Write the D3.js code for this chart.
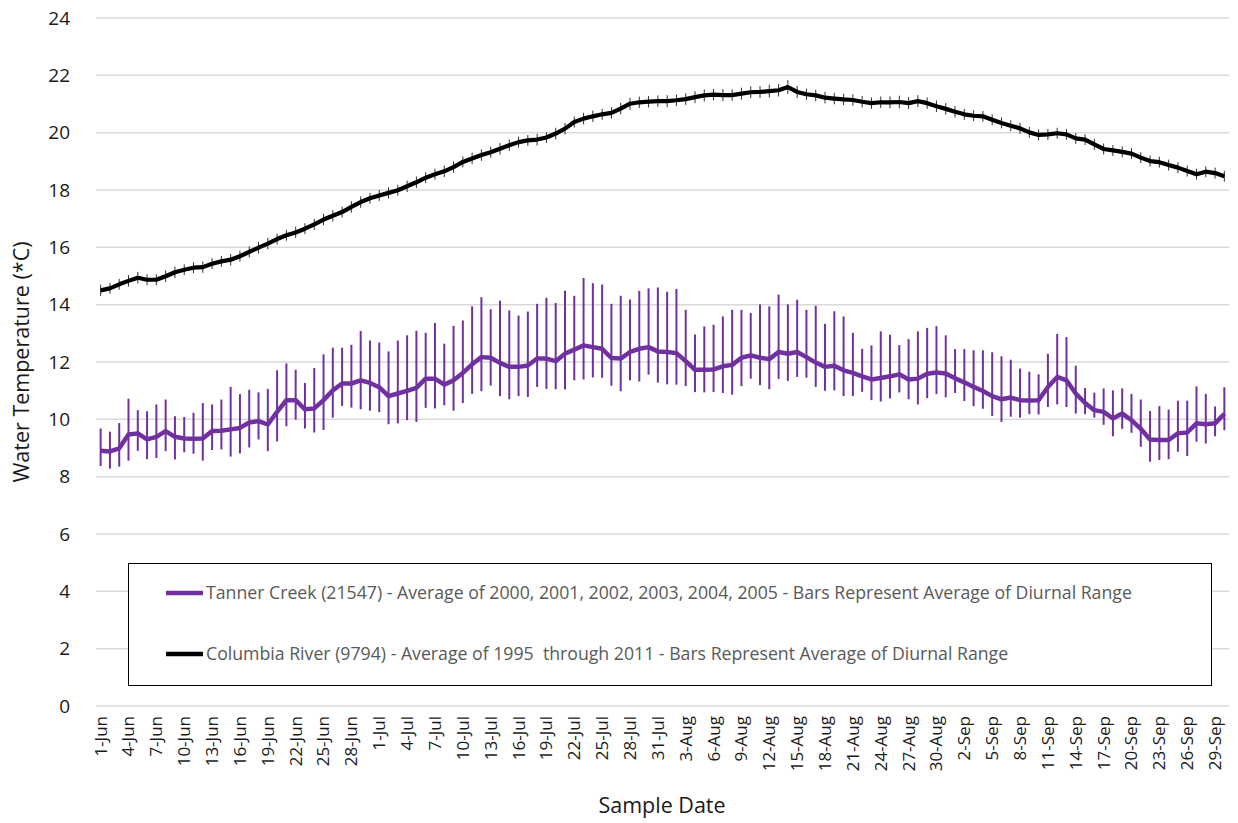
<!DOCTYPE html>
<html><head><meta charset="utf-8">
<script src="https://cdn.jsdelivr.net/npm/d3@7"></script>
<style>body{margin:0;background:#fff}svg{display:block}text{white-space:pre}</style>
</head><body>
<svg id="c" width="1238" height="823"></svg>
<script>
// Categories: daily, 1-Jun .. 30-Sep
const startDate = new Date(2000, 5, 1), endDate = new Date(2000, 9, 1);
const fmt = d3.timeFormat("%-d-%b");
const categories = d3.timeDay.range(startDate, endDate).map(fmt);
const tickLabels = ["1-Jun","4-Jun","7-Jun","10-Jun","13-Jun","16-Jun","19-Jun","22-Jun","25-Jun","28-Jun",
 "1-Jul","4-Jul","7-Jul","10-Jul","13-Jul","16-Jul","19-Jul","22-Jul","25-Jul","28-Jul","31-Jul",
 "3-Aug","6-Aug","9-Aug","12-Aug","15-Aug","18-Aug","21-Aug","24-Aug","27-Aug","30-Aug",
 "2-Sep","5-Sep","8-Sep","11-Sep","14-Sep","17-Sep","20-Sep","23-Sep","26-Sep","29-Sep"];
const yTicks = [0,2,4,6,8,10,12,14,16,18,20,22,24];

const tannerMean = [8.90,8.88,8.99,9.47,9.51,9.30,9.39,9.59,9.39,9.33,9.32,9.33,9.59,9.60,9.65,9.70,9.89,9.94,9.82,10.26,
 10.67,10.67,10.35,10.38,10.67,11.01,11.25,11.25,11.36,11.27,11.12,10.81,10.90,10.99,11.10,11.42,11.42,11.21,11.36,11.62,
 11.92,12.17,12.15,11.97,11.83,11.83,11.88,12.12,12.12,12.03,12.29,12.43,12.58,12.52,12.46,12.14,12.12,12.35,12.46,12.52,
 12.37,12.35,12.31,12.03,11.73,11.73,11.74,11.85,11.90,12.15,12.23,12.15,12.10,12.35,12.29,12.35,12.17,11.98,11.83,11.87,
 11.71,11.62,11.50,11.39,11.44,11.50,11.57,11.39,11.42,11.59,11.63,11.60,11.43,11.29,11.13,10.99,10.81,10.70,10.76,10.67,
 10.66,10.67,11.13,11.48,11.36,10.90,10.57,10.32,10.26,10.03,10.20,9.97,9.67,9.30,9.28,9.28,9.51,9.54,9.86,9.83,
 9.86,10.19];
const tannerHigh = [9.68,9.57,9.87,10.72,10.32,10.28,10.52,10.69,10.11,10.08,10.23,10.57,10.52,10.69,11.13,10.88,11.03,10.94,11.06,11.71,
 11.95,11.73,11.27,11.79,12.27,12.50,12.50,12.60,13.08,12.75,12.68,12.37,12.75,12.93,13.09,13.02,13.36,12.64,13.26,13.45,
 13.94,14.26,13.84,14.14,13.80,13.62,13.76,14.03,14.24,14.06,14.49,14.31,14.93,14.75,14.70,14.03,14.31,14.18,14.48,14.57,
 14.60,14.45,14.55,13.82,12.96,13.24,13.30,13.59,13.82,13.82,13.71,14.01,13.94,14.35,14.01,14.17,13.82,13.96,13.33,13.77,
 13.59,13.02,12.46,12.58,13.07,12.95,12.59,12.80,13.07,13.19,13.25,12.93,12.45,12.45,12.41,12.41,12.34,12.20,12.08,11.77,
 11.66,11.57,12.29,12.98,12.87,11.87,11.09,10.93,11.08,11.01,11.08,10.89,10.69,10.29,10.46,10.34,10.65,10.65,11.15,10.89,
 10.45,11.12];
const tannerLow = [8.37,8.28,8.35,8.56,8.90,8.61,8.65,8.89,8.60,8.85,8.80,8.56,8.93,8.95,8.70,8.81,9.02,9.30,8.89,9.23,
 9.76,9.99,9.68,9.54,9.63,10.06,10.47,10.41,10.35,10.30,10.25,9.83,9.86,9.97,9.91,10.40,10.38,10.49,10.30,10.57,
 10.89,10.98,11.18,10.81,10.70,10.81,10.78,11.13,11.06,11.05,11.04,11.36,11.39,11.46,11.45,11.17,10.98,11.36,11.32,11.56,
 11.28,11.22,11.21,11.16,10.95,10.94,10.95,10.92,10.86,11.16,11.42,11.19,11.05,11.41,11.34,11.48,11.45,11.13,11.00,11.01,
 10.81,10.81,10.96,10.67,10.62,10.73,10.94,10.70,10.52,10.74,10.88,10.77,10.92,10.64,10.46,10.37,10.12,9.91,10.09,10.06,
 10.18,10.17,10.43,10.52,10.43,10.20,10.18,10.06,9.81,9.41,9.67,9.53,9.04,8.52,8.58,8.61,8.87,8.72,9.22,9.16,
 9.41,9.62];
const columbiaMean = [14.50,14.57,14.71,14.83,14.94,14.87,14.87,14.99,15.13,15.22,15.29,15.31,15.43,15.51,15.57,15.69,15.84,15.99,16.13,16.29,
 16.42,16.52,16.65,16.80,16.97,17.10,17.23,17.41,17.58,17.71,17.81,17.90,17.99,18.13,18.27,18.43,18.55,18.65,18.80,18.98,
 19.10,19.22,19.32,19.44,19.56,19.67,19.73,19.76,19.83,19.97,20.14,20.37,20.49,20.57,20.64,20.69,20.84,21.01,21.06,21.08,
 21.10,21.10,21.13,21.17,21.24,21.30,21.33,21.31,21.31,21.36,21.41,21.42,21.45,21.48,21.59,21.42,21.34,21.30,21.22,21.19,
 21.16,21.14,21.08,21.03,21.06,21.06,21.07,21.03,21.10,21.03,20.92,20.83,20.73,20.64,20.59,20.57,20.45,20.34,20.24,20.15,
 20.01,19.92,19.94,19.98,19.94,19.80,19.76,19.59,19.43,19.38,19.33,19.27,19.13,19.01,18.97,18.87,18.78,18.66,18.55,18.64,
 18.59,18.48];
// full diurnal range (bar spans mean ± range/2)
const columbiaRange = [0.40,0.38,0.38,0.40,0.40,0.38,0.38,0.40,0.40,0.38,0.38,0.40,0.38,0.38,0.40,0.38,0.38,0.40,0.40,0.38,
 0.38,0.40,0.38,0.38,0.40,0.40,0.38,0.40,0.40,0.38,0.38,0.40,0.38,0.40,0.40,0.38,0.38,0.40,0.40,0.38,
 0.40,0.40,0.38,0.40,0.40,0.38,0.38,0.40,0.38,0.40,0.40,0.38,0.40,0.40,0.38,0.40,0.40,0.42,0.40,0.40,
 0.40,0.42,0.40,0.40,0.42,0.42,0.40,0.42,0.40,0.42,0.42,0.42,0.44,0.44,0.48,0.42,0.40,0.40,0.40,0.40,
 0.40,0.40,0.40,0.40,0.40,0.42,0.44,0.42,0.42,0.40,0.40,0.40,0.40,0.38,0.38,0.38,0.38,0.38,0.38,0.38,
 0.38,0.38,0.38,0.38,0.38,0.38,0.38,0.38,0.38,0.38,0.38,0.38,0.38,0.38,0.38,0.38,0.38,0.38,0.38,0.38,
 0.38,0.38];

const seriesNames = ["Tanner Creek (21547) - Average of 2000, 2001, 2002, 2003, 2004, 2005 - Bars Represent Average of Diurnal Range",
 "Columbia River (9794) - Average of 1995  through 2011 - Bars Represent Average of Diurnal Range"];
const PURPLE = "#7030A0";
const FONT = "'Open Sans', sans-serif";

const svg = d3.select("#c");
const plot = {left: 96, right: 1229, top: 18, bottom: 706};

const x = d3.scaleBand().domain(categories).range([plot.left, plot.right]).paddingInner(0).paddingOuter(0);
const cx = d => x(d) + x.bandwidth() / 2;
const y = d3.scaleLinear().domain([0, 24]).range([plot.bottom, plot.top]);

// gridlines
svg.append("g").selectAll("line").data(yTicks).join("line")
  .attr("x1", plot.left).attr("x2", plot.right)
  .attr("y1", d => y(d)).attr("y2", d => y(d))
  .attr("stroke", "#d9d9d9").attr("stroke-width", 1.5);

// y axis labels
const yAxis = d3.axisLeft(y).tickValues(yTicks).tickSize(0).tickPadding(0);
const gy = svg.append("g").attr("transform", `translate(${plot.left - 26},0)`).call(yAxis);
gy.select(".domain").remove();
gy.selectAll("text").attr("font-family", FONT).attr("font-size", 19).attr("fill", "#1a1a1a");

// x axis labels
const xAxis = d3.axisBottom(x).tickValues(tickLabels).tickSize(0).tickPadding(0);
const gx = svg.append("g").attr("transform", `translate(0,${plot.bottom + 8})`).call(xAxis);
gx.select(".domain").remove();
gx.selectAll("text").attr("font-family", FONT).attr("font-size", 17).attr("fill", "#1a1a1a")
  .attr("transform", "rotate(-90)").attr("text-anchor", "end").attr("dy", "0.35em").attr("x", -2).attr("y", 0);

// axis titles
svg.append("text").attr("x", 662).attr("y", 813).attr("text-anchor", "middle")
  .attr("font-family", FONT).attr("font-size", 21.5).attr("fill", "#1a1a1a").text("Sample Date");
svg.append("text").attr("transform", `translate(29,${(plot.top + plot.bottom) / 2}) rotate(-90)`)
  .attr("text-anchor", "middle").attr("font-family", FONT).attr("font-size", 21.5).attr("fill", "#1a1a1a")
  .text("Water Temperature (*C)");

// Tanner Creek
const tanner = categories.map((c, i) => ({c, m: tannerMean[i], lo: tannerLow[i], hi: tannerHigh[i]}));
svg.append("g").selectAll("line").data(tanner).join("line")
  .attr("x1", d => cx(d.c)).attr("x2", d => cx(d.c))
  .attr("y1", d => y(d.lo)).attr("y2", d => y(d.hi))
  .attr("stroke", PURPLE).attr("stroke-width", 2);
const line = d3.line().x(d => cx(d.c)).y(d => y(d.m));
svg.append("path").datum(tanner).attr("d", line).attr("fill", "none")
  .attr("stroke", PURPLE).attr("stroke-width", 4.5).attr("stroke-linejoin", "round");

// Columbia River
const col = categories.map((c, i) => ({c, m: columbiaMean[i], lo: columbiaMean[i] - columbiaRange[i] / 2, hi: columbiaMean[i] + columbiaRange[i] / 2}));
svg.append("g").selectAll("line").data(col).join("line")
  .attr("x1", d => cx(d.c)).attr("x2", d => cx(d.c))
  .attr("y1", d => y(d.lo)).attr("y2", d => y(d.hi))
  .attr("stroke", "#333").attr("stroke-width", 1);
svg.append("path").datum(col).attr("d", line).attr("fill", "none")
  .attr("stroke", "#000").attr("stroke-width", 4.2).attr("stroke-linejoin", "round");

// legend
const lg = svg.append("g");
lg.append("rect").attr("x", 128.5).attr("y", 563.5).attr("width", 1083).attr("height", 122)
  .attr("fill", "#fff").attr("stroke", "#000").attr("stroke-width", 1);
const legendItems = [{name: seriesNames[0], color: PURPLE, yy: 593}, {name: seriesNames[1], color: "#000", yy: 654}];
legendItems.forEach(it => {
  lg.append("line").attr("x1", 166).attr("x2", 203).attr("y1", it.yy).attr("y2", it.yy)
    .attr("stroke", it.color).attr("stroke-width", 4.5);
  lg.append("text").attr("x", 206).attr("y", it.yy).attr("dy", "0.35em")
    .attr("font-family", FONT).attr("font-size", 17.7).attr("fill", "#595959").text(it.name);
});
</script>
</body></html>
